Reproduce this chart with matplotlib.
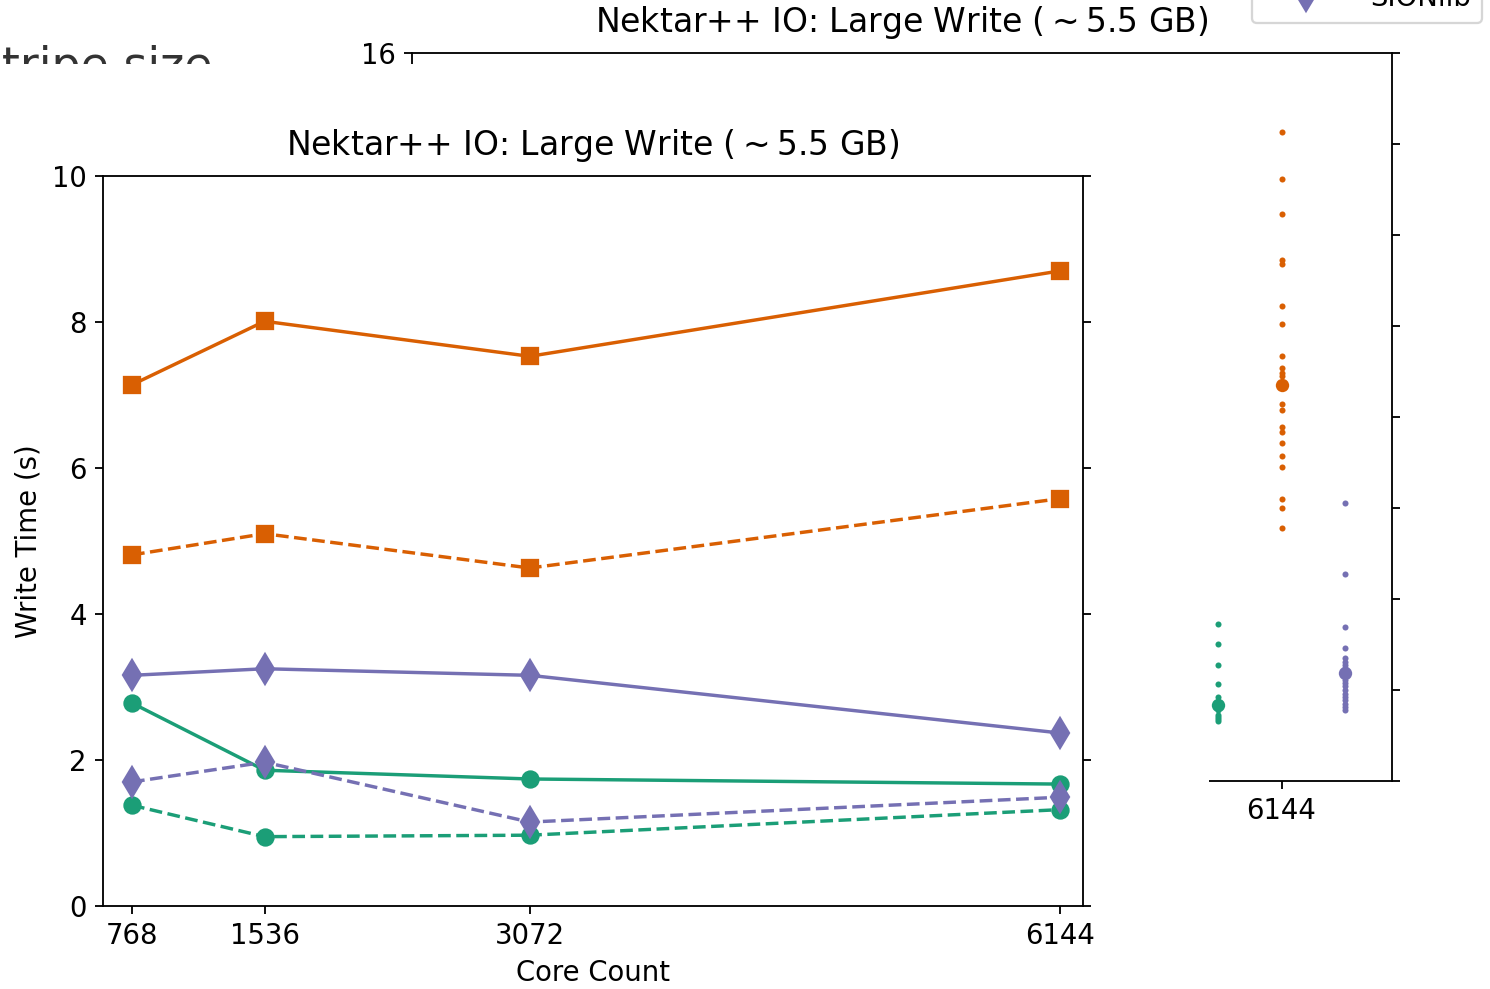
import matplotlib
matplotlib.use('Agg')
import matplotlib.pyplot as plt
from matplotlib.lines import Line2D
from matplotlib.patches import Rectangle

# Core counts and mean write times (s) for each library
cores = [768, 1536, 3072, 6144]
hdf5_a = [2.78, 1.86, 1.74, 1.67]
hdf5_b = [1.38, 0.95, 0.97, 1.32]
xml_a = [7.14, 8.01, 7.53, 8.70]
xml_b = [4.81, 5.10, 4.63, 5.58]
sion_a = [3.16, 3.25, 3.16, 2.37]
sion_b = [1.70, 1.97, 1.15, 1.49]

# Individual runs at 6144 cores
runs_hdf5 = [3.45, 3.00, 2.54, 2.13, 1.84, 1.75, 1.70, 1.60, 1.55, 1.45,
             1.40, 1.36, 1.32]
runs_xml = [14.25, 13.23, 12.45, 11.45, 11.35, 10.43, 10.03, 9.33, 9.08,
            8.97, 8.90, 8.29, 8.14, 7.78, 7.67, 7.43, 7.14, 6.89, 6.19,
            5.99, 5.56]
runs_sion = [6.10, 4.54, 3.39, 2.93, 2.70, 2.62, 2.55, 2.48, 2.42, 2.36,
             2.30, 2.22, 2.15, 2.08, 2.00, 1.92, 1.85, 1.78, 1.70, 1.62,
             1.56]

labels = ['HDF5', 'XML', 'SIONlib']
colors = ['#1b9e77', '#d95f02', '#7570b3']
markers = ['o', 's', 'd']

plt.rcParams['font.size'] = 12

W, H = 1490, 989
fig = plt.figure(figsize=(W / 165, H / 165), dpi=165)
title = r'Nektar++ IO: Large Write ($\sim$5.5 GB)'

# Back axes: spread of runs at 6144 cores
ax2 = fig.add_axes([412 / W, 208 / H, 980 / W, 728.5 / H])
ax2.set_zorder(0)
dodge = 0.27
for i, (runs, c) in enumerate(zip([runs_hdf5, runs_xml, runs_sion], colors)):
    x = (i - 1) * dodge
    ax2.scatter([x] * len(runs), runs, s=7, color=c, zorder=3,
                linewidths=0)
    ax2.scatter([x], [[hdf5_a, xml_a, sion_a][i][-1]], s=34, color=c,
                zorder=4, linewidths=0)
ax2.set_xlim(-3.70, 0.47)
ax2.set_ylim(0, 16)
ax2.set_yticks(range(0, 17, 2))
ax2.set_xticks([0])
ax2.set_xticklabels(['6144'])
ax2.tick_params(right=True)
ax2.set_title(title, pad=9)

# White block that hides most of the back axes
fig.text(212 / W, 1 - 80 / H, 'stripe size', fontsize=20, color='#333333',
         ha='right', va='baseline', zorder=0.2)
fig.add_artist(Rectangle((0, 0), 1209 / W, 1 - 64 / H,
                         transform=fig.transFigure, facecolor='white',
                         edgecolor='none', zorder=0.5))

# Main axes
ax = fig.add_axes([103 / W, 83 / H, 980 / W, 730 / H])
ax.set_zorder(1)
for ya, yb, c, m in zip([hdf5_a, xml_a, sion_a], [hdf5_b, xml_b, sion_b],
                        colors, markers):
    ms = 9 if m == 'd' else 7
    ax.plot(cores, ya, color=c, marker=m, markersize=ms, lw=1.5)
    ax.plot(cores, yb, color=c, marker=m, markersize=ms, lw=1.5, ls='--')
ax.set_xlim(600, 6277)
ax.set_ylim(0, 10)
ax.set_xticks(cores)
ax.set_yticks(range(0, 11, 2))
ax.tick_params(right=True)
ax.set_xlabel('Core Count')
ax.set_ylabel('Write Time (s)')
ax.set_title(title, pad=9)

handles = [Line2D([], [], color=c, marker=m, markersize=9 if m == 'd' else 7)
           for c, m in zip(colors, markers)]
fig.legend(handles, labels, loc='lower right', handlelength=3.1,
           bbox_to_anchor=(1482 / W, 1 - 23 / H), borderaxespad=0)

fig.savefig('out.png', dpi=165)
